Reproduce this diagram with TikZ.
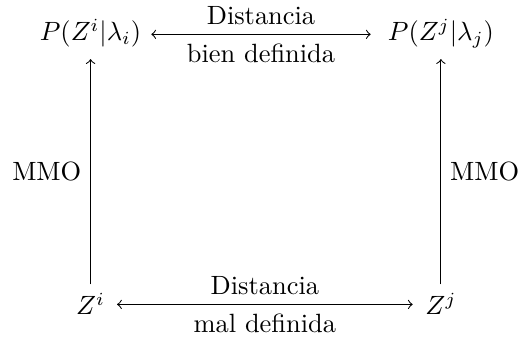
\documentclass[tikz,border=0pt]{standalone}
\usepackage{tikz}
\begin{document}
\begin{tikzpicture}[x=1pt,y=1pt,>=to,
  toprow/.style={text height=7.5pt,text depth=2.5pt,inner ysep=4.2pt},
  botrow/.style={text height=8pt,text depth=0pt,inner ysep=3.35pt},
  conn/.style={draw=black,line width=0.4pt}]
\useasboundingbox (0,0) rectangle (196.2,129.2);
\node[toprow,inner xsep=3.6pt] (tl) at (34.3,116.2) {$P(Z^i|\lambda_i)$};
\node[toprow,inner xsep=6.3pt] (tr) at (167,116.2) {$P(Z^j|\lambda_j)$};
\node[botrow,inner xsep=4.4pt] (bl) at (34.3,13.9) {$Z^i$};
\node[botrow,inner xsep=4.6pt] (br) at (167,13.9) {$Z^j$};
\draw[conn,<->] (tl.east) -- node[above] {Distancia} node[below] {bien definida} (tr.west);
\draw[conn,<->] (bl.east) -- node[above] {Distancia} node[below] {mal definida} (br.west);
\draw[conn,->] (bl.north) -- node[left] {MMO} (tl.south);
\draw[conn,->] (br.north) -- node[right] {MMO} (tr.south);
\end{tikzpicture}
\end{document}
